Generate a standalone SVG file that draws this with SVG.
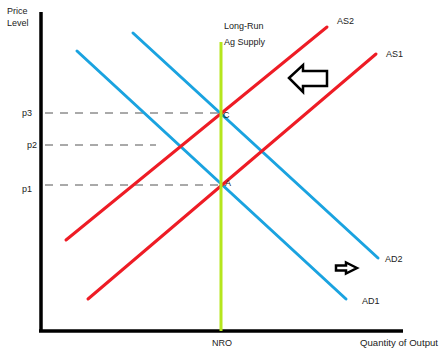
<svg xmlns="http://www.w3.org/2000/svg" width="440" height="349" viewBox="0 0 440 349">
<style>
text{font-family:"Liberation Sans","DejaVu Sans",sans-serif;font-size:9px;fill:#222}
.ad{stroke:#1aa3e0;stroke-width:3;fill:none;stroke-linecap:round}
.as{stroke:#ee1c25;stroke-width:3;fill:none;stroke-linecap:round}
.dash{stroke:#555;stroke-width:1;stroke-dasharray:8,7;fill:none}
.axis{stroke:#000;stroke-width:3.5;fill:none}
.shift{fill:#fff;stroke:#000;stroke-width:2.5;stroke-linejoin:miter}
</style>
<rect width="440" height="349" fill="#fff"/>
<g id="axes">
<line class="axis" x1="41" y1="12" x2="41" y2="331"/>
<line class="axis" x1="39" y1="331" x2="403" y2="331"/>
<text x="7" y="14">Price</text>
<text x="7" y="26">Level</text>
<text x="360" y="346" textLength="78" lengthAdjust="spacingAndGlyphs">Quantity of Output</text>
<text x="212" y="346">NRO</text>
</g>
<g id="connectors">
<line class="dash" x1="45" y1="113" x2="220" y2="113"/>
<line class="dash" x1="45" y1="145" x2="156" y2="145"/>
<line class="dash" x1="45" y1="185" x2="220" y2="185"/>
</g>
<g id="price-labels">
<text x="22" y="116">p3</text>
<text x="27" y="148">p2</text>
<text x="22" y="192">p1</text>
</g>
<g id="AD1">
<line class="ad" x1="77" y1="51" x2="346" y2="299"/>
<text x="362" y="304">AD1</text>
</g>
<g id="AD2">
<line class="ad" x1="133" y1="33" x2="378" y2="258"/>
<text x="385" y="262">AD2</text>
</g>
<g id="AS1">
<line class="as" x1="88" y1="299" x2="376" y2="54"/>
<text x="386" y="57">AS1</text>
</g>
<g id="AS2">
<line class="as" x1="66" y1="240" x2="327" y2="27"/>
<text x="337" y="24">AS2</text>
</g>
<g id="LRAS">
<line x1="221" y1="42" x2="221" y2="331" stroke="#b5e61d" stroke-width="3"/>
<text x="224" y="29">Long-Run</text>
<text x="224" y="45">Ag Supply</text>
</g>
<g id="points">
<text x="223" y="118">C</text>
<text x="225" y="186">A</text>
</g>
<g id="shift-left">
<polygon class="shift" points="289,78 303,65 303,71 327,71 327,86 303,86 303,92"/>
</g>
<g id="shift-right">
<polygon class="shift" stroke-width="3" points="357,268 346,262.5 346,265.5 336,265.5 336,270.5 346,270.5 346,273.5"/>
</g>
</svg>
